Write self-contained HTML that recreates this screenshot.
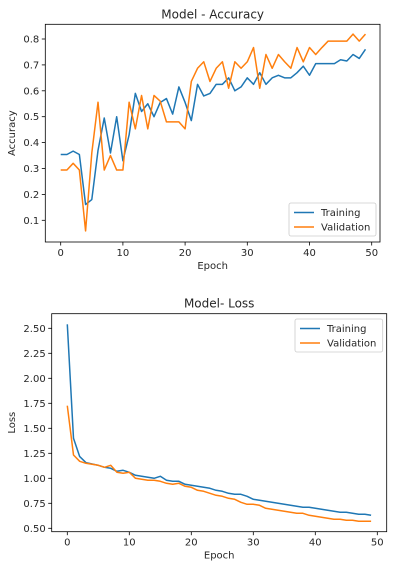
<!DOCTYPE html>
<html><head><meta charset="utf-8"><style>
body{margin:0;background:#fff;font-family:"Liberation Sans","DejaVu Sans",sans-serif}
svg{display:block}
text{font-family:"DejaVu Sans","Liberation Sans",sans-serif;fill:#262626}
</style></head><body>
<svg id="chart" width="419" height="571" viewBox="0 0 419 571" xmlns="http://www.w3.org/2000/svg"></svg>
<script>
const epochs = Array.from({length:50},(_,i)=>i);
const accTrain = [0.354,0.354,0.367,0.354,0.161,0.18,0.37,0.495,0.36,0.50,0.33,0.43,0.59,0.52,0.55,0.50,0.555,0.57,0.51,0.615,0.555,0.485,0.625,0.58,0.59,0.625,0.625,0.65,0.60,0.615,0.65,0.625,0.67,0.625,0.65,0.66,0.65,0.65,0.67,0.695,0.66,0.705,0.705,0.705,0.705,0.72,0.715,0.74,0.725,0.76];
const accVal = [0.294,0.294,0.32,0.294,0.059,0.36,0.556,0.294,0.35,0.294,0.294,0.556,0.453,0.582,0.453,0.582,0.56,0.48,0.48,0.48,0.453,0.636,0.687,0.712,0.636,0.687,0.712,0.61,0.712,0.687,0.712,0.767,0.61,0.74,0.687,0.74,0.712,0.687,0.767,0.712,0.767,0.74,0.767,0.792,0.792,0.792,0.792,0.819,0.792,0.819];
const lossTrain = [2.54,1.40,1.217,1.157,1.143,1.13,1.11,1.10,1.07,1.08,1.06,1.03,1.02,1.01,1.0,1.02,0.98,0.97,0.97,0.94,0.93,0.92,0.91,0.90,0.88,0.87,0.85,0.84,0.84,0.82,0.79,0.78,0.77,0.76,0.75,0.74,0.73,0.72,0.71,0.71,0.70,0.69,0.68,0.67,0.66,0.66,0.65,0.64,0.64,0.63];
const lossVal = [1.726,1.233,1.17,1.15,1.14,1.13,1.11,1.13,1.06,1.05,1.06,1.0,0.99,0.98,0.98,0.97,0.95,0.94,0.95,0.92,0.91,0.88,0.87,0.85,0.83,0.82,0.80,0.79,0.76,0.74,0.74,0.73,0.70,0.69,0.68,0.67,0.66,0.65,0.65,0.63,0.62,0.61,0.60,0.59,0.59,0.58,0.58,0.57,0.57,0.57];
const xTicks = [0,10,20,30,40,50];
const accTicks = [0.1,0.2,0.3,0.4,0.5,0.6,0.7,0.8];
const lossTicks = [0.50,0.75,1.00,1.25,1.50,1.75,2.00,2.25,2.50];

const NS="http://www.w3.org/2000/svg";
const svg=document.getElementById('chart');
function mk(tag,attrs,parent){const e=document.createElementNS(NS,tag);for(const k in attrs)e.setAttribute(k,attrs[k]);(parent||svg).appendChild(e);return e;}

function panel(cfg){
  const g=mk('g',{});
  
  
  const xs=v=>cfg.x0+v*cfg.xk;
  const ys=v=>cfg.yRef+(cfg.vRef-v)*cfg.yk;
  // ticks
  xTicks.forEach(t=>{
    const x=xs(t);
    mk('line',{x1:x,x2:x,y1:cfg.bottom,y2:cfg.bottom+3.5,stroke:'#000','stroke-width':0.8},g);
    const tx=mk('text',{x:x,y:cfg.bottom+14,'font-size':10,'text-anchor':'middle'},g);
    tx.textContent=t;
    
    
  });
  cfg.yTicks.forEach(t=>{
    const y=ys(t);
    mk('line',{x1:cfg.left-3.5,x2:cfg.left,y1:y,y2:y,stroke:'#000','stroke-width':0.8},g);
    const tx=mk('text',{x:cfg.left-6,y:y+3.5,'font-size':10,'text-anchor':'end'},g);
    tx.textContent=t.toFixed(cfg.dec);
    
    
  });
  const series=[[cfg.train,'#1f77b4','training-line'],[cfg.val,'#ff7f0e','validation-line']];
  series.forEach(([d,c,n])=>{
    const p=mk('polyline',{points:d.map((v,i)=>xs(epochs[i]).toFixed(2)+','+ys(v).toFixed(2)).join(' '),fill:'none',stroke:c,'stroke-width':1.5,'stroke-linejoin':'round'},g);
    
    
  });
  const fr=mk('rect',{x:cfg.left,y:cfg.top,width:cfg.right-cfg.left,height:cfg.bottom-cfg.top,fill:'none',stroke:'#000','stroke-width':0.8},g);
  
  
  const ti=mk('text',{x:(cfg.left+cfg.right)/2,y:cfg.top-6,'font-size':12,'text-anchor':'middle'},g);
  ti.textContent=cfg.title;
  
  
  const xl=mk('text',{x:(cfg.left+cfg.right)/2,y:cfg.bottom+27,'font-size':10,'text-anchor':'middle'},g);
  xl.textContent='Epoch';
  
  
  const ym=(cfg.top+cfg.bottom)/2;
  const yl=mk('text',{x:cfg.ylabX,y:ym,'font-size':10,'text-anchor':'middle',transform:`rotate(-90 ${cfg.ylabX} ${ym})`},g);
  yl.textContent=cfg.ylabel;
  
  
  // legend
  const lg=mk('g',{},g);
  
  
  mk('rect',{x:cfg.lx,y:cfg.ly,width:cfg.right-4-cfg.lx,height:33,rx:2,fill:'#fff','fill-opacity':0.8,stroke:'#ccc','stroke-width':0.8},lg);
  [['Training','#1f77b4'],['Validation','#ff7f0e']].forEach(([t,c],i)=>{
    const yy=cfg.ly+9.5+i*14.5;
    mk('line',{x1:cfg.lx+5,x2:cfg.lx+25,y1:yy,y2:yy,stroke:c,'stroke-width':1.5},lg);
    const tx=mk('text',{x:cfg.lx+32,y:yy+3.5,'font-size':10},lg);
    tx.textContent=t;
    
    
  });
}

panel({name:'accuracy-chart',title:'Model - Accuracy',ylabel:'Accuracy',left:45.3,right:380,top:24.3,bottom:242,
  x0:60.7,xk:6.22,yRef:39,vRef:0.8,yk:259,yTicks:accTicks,dec:1,train:accTrain,val:accVal,ylabX:15,lx:289,ly:203});
panel({name:'loss-chart',title:'Model- Loss',ylabel:'Loss',left:51.7,right:386.7,top:313.7,bottom:531.7,
  x0:67.3,xk:6.2,yRef:328.3,vRef:2.5,yk:100,yTicks:lossTicks,dec:2,train:lossTrain,val:lossVal,ylabX:15,lx:295,ly:319});
</script>
</body></html>
